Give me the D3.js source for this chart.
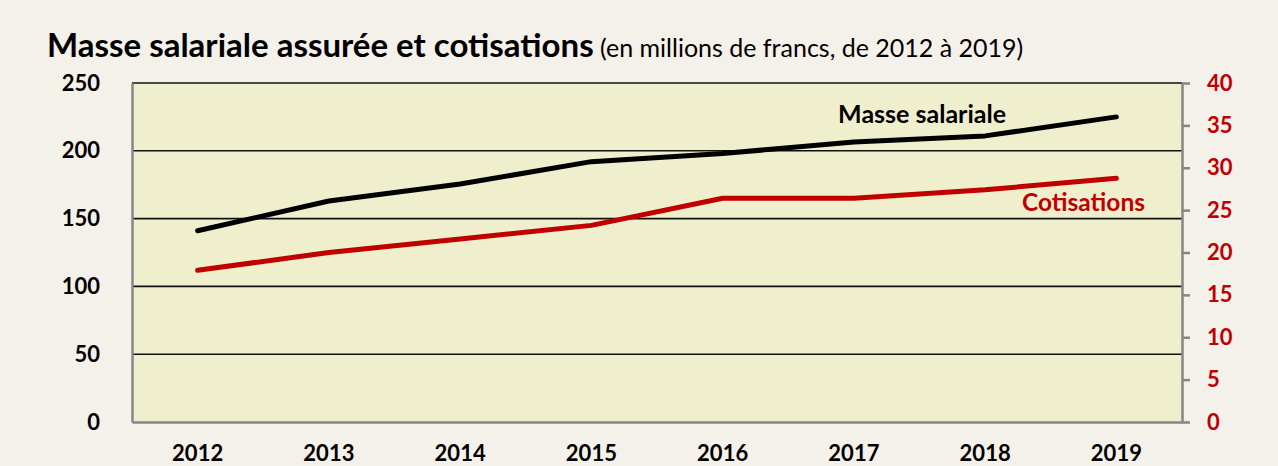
<!DOCTYPE html>
<html>
<head>
<meta charset="utf-8">
<script src="https://cdn.jsdelivr.net/npm/d3@7"></script>
<style>
  body { margin: 0; background: #f5f2eb; }
  svg { display: block; font-family: Lato, "Open Sans", sans-serif; }
  .axis path, .axis line { stroke: #868686; }
</style>
</head>
<body>
<script>
const years = ['2012', '2013', '2014', '2015', '2016', '2017', '2018', '2019'];
const masseSalariale = [141, 163, 175.5, 192, 198, 206.5, 211, 225];
const cotisations = [17.9, 20.0, 21.6, 23.2, 26.4, 26.4, 27.4, 28.75];
const leftTicks = [0, 50, 100, 150, 200, 250];
const rightTicks = [0, 5, 10, 15, 20, 25, 30, 35, 40];

const WIDTH = 1278;
const HEIGHT = 466;
const LEFT = 132;
const RIGHT = 1182;
const TOP = 83;
const BOTTOM = 422;
const RED = '#c00000';

var xScale = d3.scaleBand()
    .domain(years)
    .range([LEFT, RIGHT]);

var yLeft = d3.scaleLinear()
    .domain([0, 250])
    .range([BOTTOM, TOP]);

var yRight = d3.scaleLinear()
    .domain([0, 40])
    .range([BOTTOM, TOP]);

var onload = function() {
    var svg = d3.select('body').append('svg')
        .attr('width', WIDTH)
        .attr('height', HEIGHT);

    svg.append('rect')
        .attr('x', 9).attr('y', 0)
        .attr('width', WIDTH - 9).attr('height', HEIGHT)
        .attr('fill', '#f4f1ea');

    // plot area
    svg.append('rect')
        .attr('x', LEFT).attr('y', TOP)
        .attr('width', RIGHT - LEFT).attr('height', BOTTOM - TOP)
        .attr('fill', '#efefce');

    // gridlines
    svg.append('g')
        .selectAll('line')
        .data(leftTicks.filter(function(d) { return d > 0; }))
        .enter().append('line')
        .attr('x1', LEFT).attr('x2', RIGHT)
        .attr('y1', function(d) { return yLeft(d); })
        .attr('y2', function(d) { return yLeft(d); })
        .attr('stroke', '#111')
        .attr('stroke-width', 1.6);

    // left axis
    var leftAxis = svg.append('g')
        .attr('class', 'axis')
        .attr('transform', 'translate(' + LEFT + ',0)')
        .call(d3.axisLeft(yLeft).tickValues(leftTicks).tickSize(0).tickPadding(32));
    leftAxis.select('.domain').attr('stroke-width', 2.5);
    leftAxis.selectAll('text')
        .attr('font-size', 22).attr('font-weight', 'bold').attr('fill', '#000')
        .attr('font-family', 'Lato');

    // right axis
    var rightAxis = svg.append('g')
        .attr('class', 'axis')
        .attr('transform', 'translate(' + RIGHT + ',0)')
        .call(d3.axisRight(yRight).tickValues(rightTicks).tickSize(8).tickSizeOuter(0).tickPadding(17));
    rightAxis.select('.domain').attr('stroke-width', 2.5);
    rightAxis.selectAll('line').attr('stroke-width', 2.5);
    rightAxis.selectAll('text')
        .attr('font-size', 22).attr('font-weight', 'bold').attr('fill', RED)
        .attr('font-family', 'Lato');

    // bottom axis
    var bottomAxis = svg.append('g')
        .attr('class', 'axis')
        .attr('transform', 'translate(0,' + BOTTOM + ')')
        .call(d3.axisBottom(xScale).tickSize(0).tickSizeOuter(0).tickPadding(23));
    bottomAxis.select('.domain').attr('stroke-width', 2.5);
    bottomAxis.selectAll('text')
        .attr('font-size', 22).attr('font-weight', 'bold').attr('fill', '#000')
        .attr('font-family', 'Lato');

    var cx = function(d, i) { return xScale(years[i]) + xScale.bandwidth() / 2; };

    var lineLeft = d3.line()
        .x(cx)
        .y(function(d) { return yLeft(d); });

    var lineRight = d3.line()
        .x(cx)
        .y(function(d) { return yRight(d); });

    svg.append('path')
        .attr('d', lineRight(cotisations))
        .attr('fill', 'none')
        .attr('stroke', RED)
        .attr('stroke-width', 5)
        .attr('stroke-linecap', 'round')
        .attr('stroke-linejoin', 'round');

    svg.append('path')
        .attr('d', lineLeft(masseSalariale))
        .attr('fill', 'none')
        .attr('stroke', '#000')
        .attr('stroke-width', 5)
        .attr('stroke-linecap', 'round')
        .attr('stroke-linejoin', 'round');

    // series labels
    svg.append('text')
        .attr('x', 1006).attr('y', 123)
        .attr('text-anchor', 'end')
        .attr('font-size', 25).attr('font-weight', 'bold')
        .attr('fill', '#000')
        .text('Masse salariale');

    svg.append('text')
        .attr('x', 1145).attr('y', 211)
        .attr('text-anchor', 'end')
        .attr('font-size', 24.5).attr('font-weight', 'bold')
        .attr('fill', RED)
        .text('Cotisations');

    // title
    var title = svg.append('text')
        .attr('x', 47).attr('y', 57);
    title.append('tspan')
        .attr('font-size', 33).attr('font-weight', 'bold')
        .attr('fill', '#000')
        .text('Masse salariale assurée et cotisations');
    title.append('tspan')
        .attr('font-size', 25)
        .attr('fill', '#000')
        .text(' (en millions de francs, de 2012 à 2019)');
};

window.onload = onload;
</script>
</body>
</html>
